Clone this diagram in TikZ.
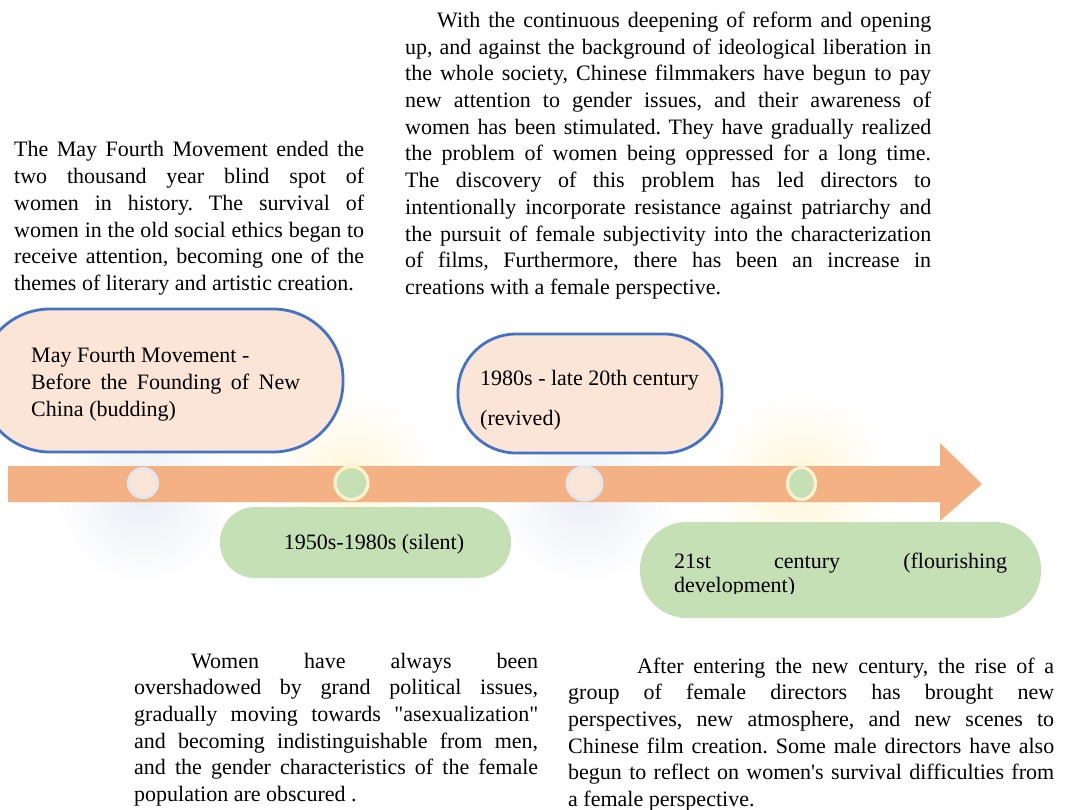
\documentclass[tikz,border=0pt]{standalone}
\usepackage{fontspec}
\setmainfont{Liberation Serif}
\usetikzlibrary{fadings,shapes.geometric}
\definecolor{peach}{HTML}{FBE5D6}
\definecolor{bordblue}{HTML}{4472C4}
\definecolor{leaf}{HTML}{C5E0B4}
\definecolor{arrowc}{HTML}{F4B183}
\definecolor{ringcream}{HTML}{FFF2CC}
\definecolor{ringgray}{HTML}{E2E6EF}
\definecolor{glowblue}{HTML}{C3CDE3}
\definecolor{glowyellow}{HTML}{FFE38A}
\tolerance=10000
\hbadness=10000
\hyphenpenalty=10000
\exhyphenpenalty=10000
\frenchspacing
\tikzfading[name=glowfade, inner color=transparent!0, outer color=transparent!100]
\tikzset{
  para/.style={inner sep=0pt, align=justify, anchor=base west,
    font=\fontsize{22}{26.7}\selectfont},
  lbl/.style={inner sep=0pt, anchor=base west, font=\fontsize{22}{26.7}\selectfont},
  pbox/.style={draw=bordblue, line width=2.8pt, fill=peach, rectangle},
  gbox/.style={fill=leaf, rectangle},
  pdot/.style={ellipse, fill=peach, draw=ringgray, line width=3pt, inner sep=0pt},
  gdot/.style={ellipse, fill=leaf, draw=ringcream, line width=3.2pt, inner sep=0pt},
  glow/.style={path fading=glowfade, opacity=0.35}
}
\begin{document}
\begin{tikzpicture}[x=1pt,y=-1pt]
\useasboundingbox (0,0) rectangle (1067,810);
\clip (0,0) rectangle (1067,810);

% glows
\fill[glowblue, glow] (143,495) circle (90);
\fill[glowyellow, glow] (351,483) circle (90);
\fill[glowblue, glow] (584,495) circle (90);
\fill[glowyellow, glow] (801,483) circle (90);

% boxes
\node[pbox, minimum width=363pt, minimum height=143pt, rounded corners=70pt] (b1) at (161.5,380.5) {};
\node[pbox, minimum width=264pt, minimum height=119pt, rounded corners=58pt] (b2) at (590,393.5) {};
\node[gbox, minimum width=291pt, minimum height=71pt, rounded corners=35pt] (g1) at (365.5,542.5) {};
\node[gbox, minimum width=401pt, minimum height=96pt, rounded corners=47pt] (g2) at (840.5,570) {};

% timeline arrow
\fill[arrowc] (8,466) -- (940,466) -- (940,443) -- (982,484) -- (940,521) -- (940,502) -- (8,502) -- cycle;

% dots
\node[pdot, minimum width=29pt, minimum height=29pt] (c1) at (143,483) {};
\node[gdot, minimum width=33pt, minimum height=33pt] (c2) at (351.5,483) {};
\node[pdot, minimum width=35pt, minimum height=33pt] (c3) at (584.5,483.5) {};
\node[gdot, minimum width=28pt, minimum height=32pt] (c4) at (801.5,483.5) {};

% box labels
\node[para, text width=269pt, font=\fontsize{22}{27}\selectfont] (l1) at (31,362)
  {May Fourth Movement -\\Before the Founding of New\linebreak China (budding)};
\node[lbl] (l2a) at (480,385) {1980s - late 20th century};
\node[lbl] (l2b) at (480,425) {(revived)};
\node[lbl, anchor=base] (l3) at (374,549) {1950s-1980s (silent)};
\begin{scope}
\clip (640,500) rectangle (1041,593.5);
\node[para, text width=333pt, font=\fontsize{22}{24}\selectfont] (l4) at (674,568)
  {21st century (flourishing\linebreak development)};
\end{scope}

% paragraphs
\node[para, text width=350pt] (t1) at (14,157)
  {The May Fourth Movement ended the\linebreak
   two thousand year blind spot of\linebreak
   women in history. The survival of\linebreak
   women in the old social ethics began to\linebreak
   receive attention, becoming one of the\linebreak
   themes of literary and artistic creation.};

\node[para, text width=526pt] (t2) at (405,27.5)
  {\hspace*{32pt}With the continuous deepening of reform and opening\linebreak
   up, and against the background of ideological liberation in\linebreak
   the whole society, Chinese filmmakers have begun to pay\linebreak
   new attention to gender issues, and their awareness of\linebreak
   women has been stimulated. They have gradually realized\linebreak
   the problem of women being oppressed for a long time.\linebreak
   The discovery of this problem has led directors to\linebreak
   intentionally incorporate resistance against patriarchy and\linebreak
   the pursuit of female subjectivity into the characterization\linebreak
   of films, Furthermore, there has been an increase in\linebreak
   creations with a female perspective.};

\node[para, text width=404pt] (t3) at (134,668)
  {\hspace*{57pt}Women have always been\linebreak
   overshadowed by grand political issues,\linebreak
   gradually moving towards \textquotedbl asexualization\textquotedbl\linebreak
   and becoming indistinguishable from men,\linebreak
   and the gender characteristics of the female\linebreak
   population are obscured .};

\node[para, text width=486pt] (t4) at (568,673)
  {\hspace*{69pt}After entering the new century, the rise of a\linebreak
   group of female directors has brought new\linebreak
   perspectives, new atmosphere, and new scenes to\linebreak
   Chinese film creation. Some male directors have also\linebreak
   begun to reflect on women\textquotesingle s survival difficulties from\linebreak
   a female perspective.};
\end{tikzpicture}
\end{document}
